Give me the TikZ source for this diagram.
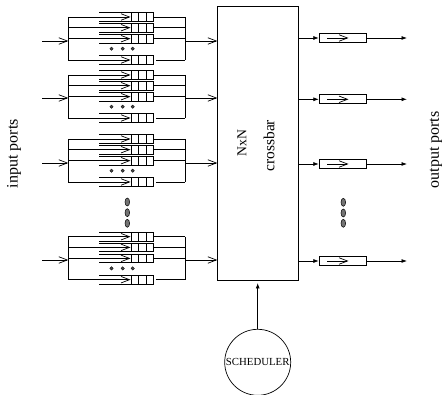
\documentclass[tikz,border=0pt]{standalone}
\usepackage{fontspec}
\setmainfont{Liberation Serif}
\usetikzlibrary{arrows.meta,shapes.geometric}
\tikzset{
  wire/.style={line width=0.75pt,line cap=butt},
  barb/.style={wire,-{Straight Barb[length=8.5pt,width=6.5pt,line width=0.7pt]}},
  solidtip/.style={wire,-{Latex[length=5.5pt,width=4pt]}},
  boxline/.style={line width=0.8pt},
  label/.style={font=\fontsize{15.5}{17}\selectfont,inner sep=0pt},
  dotmark/.style={circle,fill=black!70,draw=black,line width=0.3pt,minimum size=3.4pt,inner sep=0pt},
  vdot/.style={ellipse,fill=black!55,draw=black,line width=0.5pt,minimum width=4.6pt,minimum height=8pt,inner sep=0pt},
}
\begin{document}
\begin{tikzpicture}[x=1pt,y=-1pt]
\useasboundingbox (0,0) rectangle (442,395);
% crossbar
\node[draw,boxline,minimum width=80.5pt,minimum height=274pt,inner sep=0pt] (xbar) at (258,143) {};
\node[label,rotate=90,font=\fontsize{13.7}{15}\selectfont] (nxn) at (242,143) {NxN};
\node[label,rotate=90] (cb) at (269,145.7) {crossbar};
% input blocks
\foreach \b/\o/\a in {1/0/0,2/58/57,3/122/122,4/219.7/219}{
  \coordinate (in\b) at (42,41+\a);
  \coordinate (lb\b) at (68.3,41+\a);
  \coordinate (rb\b) at (185,41+\a);
  \coordinate (xin\b) at (xbar.west |- rb\b);
  \draw[barb] (in\b) -- (lb\b);
  \draw[barb] (rb\b) -- (xin\b);
  \foreach \r/\c in {1/17,2/27.7,3/38.7,4/60}{
    \coordinate (ql\b\r) at (68.3,\c+\o);
    \coordinate (qt\b\r) at (130.5,\c+\o);
    \coordinate (qe\b\r) at (153.3,\c+\o);
    \coordinate (qr\b\r) at (185,\c+\o);
    \draw[boxline] (99.3,\c+\o-4.4) -- (153.3,\c+\o-4.4) -- (153.3,\c+\o+4.4) -- (99.3,\c+\o+4.4);
    \foreach \d in {131.5,138.5,146}{
      \draw[boxline] (\d,\c+\o-4.4) -- (\d,\c+\o+4.4);
    }
    \draw[barb] (ql\b\r) -- (qt\b\r);
  }
  \draw[wire] (ql\b1) -- (ql\b4);
  \draw[wire] (qr\b1) -- (qr\b4);
  \draw[wire] (qe\b1) -- (qr\b1);
  \draw[wire] (qe\b2) -- (qr\b2);
  \draw[wire] (qe\b3) -- (qr\b3);
  \draw[wire] ([xshift=2.7pt]qe\b4) -- (qr\b4);
  \node[dotmark] (da\b) at (111.5,48.7+\o) {};
  \node[dotmark] (db\b) at (122.7,48.7+\o) {};
  \node[dotmark] (dc\b) at (132.7,48.7+\o) {};
}
% vertical dots left
\node[vdot] (vl1) at (127.3,202) {};
\node[vdot] (vl2) at (127.3,212.7) {};
\node[vdot] (vl3) at (127.3,223.3) {};
% outputs
\foreach \i/\y in {1/38,2/99.3,3/164,4/261}{
  \node[draw,boxline,minimum width=47.5pt,minimum height=9pt,inner sep=0pt] (ob\i) at (343,\y) {};
  \coordinate (xo\i) at (xbar.east |- ob\i);
  \coordinate (oe\i) at (407,\y);
  \coordinate (ia\i) at (327,\y);
  \coordinate (ib\i) at (348.5,\y);
  \draw[solidtip] (xo\i) -- (ob\i.west);
  \draw[solidtip] (ob\i.east) -- (oe\i);
  \draw[barb] (ia\i) -- (ib\i);
}
% vertical dots right
\node[vdot] (vr1) at (343.3,202.3) {};
\node[vdot] (vr2) at (343.3,213) {};
\node[vdot] (vr3) at (343.3,223.3) {};
% scheduler
\node[draw,circle,line width=0.7pt,minimum size=66pt,inner sep=0pt] (sch) at (257.7,362.3) {};
\node[label,font=\fontsize{10.8}{12}\selectfont] (schl) at (257.7,362.3) {SCHEDULER};
\coordinate (xt) at (257.7,283);
\draw[solidtip] (sch.north) -- (xt);
% side labels
\node[label,rotate=90,font=\fontsize{16}{18}\selectfont] (ip) at (14,153.7) {input ports};
\node[label,rotate=90,font=\fontsize{16}{18}\selectfont] (op) at (436,150) {output ports};
\end{tikzpicture}
\end{document}
